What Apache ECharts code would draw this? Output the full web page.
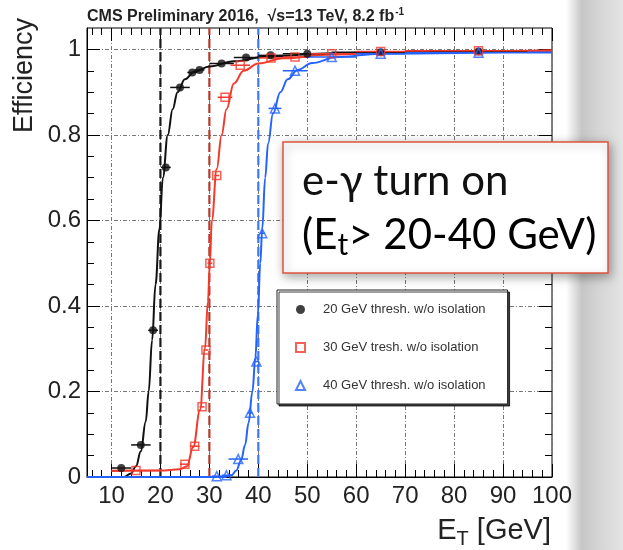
<!DOCTYPE html>
<html><head><meta charset="utf-8">
<script src="https://cdn.jsdelivr.net/npm/echarts@6/dist/echarts.min.js"></script>
<style>html,body{margin:0;padding:0;background:#fff}#c{width:623px;height:550px}</style>
</head><body><div id="c"></div>
<script>
// ---- axes ----
const xMin = 5, xMax = 100, yMin = 0, yMax = 1.05;
const xMajorTicks = [10, 20, 30, 40, 50, 60, 70, 80, 90, 100];
const xMinorTicks = [6, 8, 12, 14, 16, 18, 22, 24, 26, 28, 32, 34, 36, 38, 42, 44, 46, 48, 52, 54, 56, 58,
  62, 64, 66, 68, 72, 74, 76, 78, 82, 84, 86, 88, 92, 94, 96, 98];
const yMajorTicks = [0, 0.2, 0.4, 0.6, 0.8, 1];
const yMinorTicks = [0.05, 0.1, 0.15, 0.25, 0.3, 0.35, 0.45, 0.5, 0.55, 0.65, 0.7, 0.75, 0.85, 0.9, 0.95];
const thresholds = [20, 30, 40];

// ---- names ----
const names = ['20 GeV thresh. w/o isolation', '30 GeV tresh. w/o isolation', '40 GeV thresh. w/o isolation'];

// ---- measured points ----
const blackX = [12, 16, 18.5, 21.1, 24, 26.5, 28, 32.5, 37.5, 42.5, 50, 65, 85];
const blackY = [0.021, 0.075, 0.343, 0.724, 0.911, 0.946, 0.952, 0.967, 0.981, 0.986, 0.99, 0.993, 0.995];
const blackXErr = [2, 2, 1, 1, 2, 1, 1, 2.5, 2.5, 2.5, 5, 10, 10];

const redX = [15, 25, 27, 28.5, 29.3, 30.1, 31.5, 33.2, 36.3, 42.6, 47.5, 55, 65, 85];
const redY = [0.015, 0.03, 0.072, 0.164, 0.297, 0.5, 0.705, 0.888, 0.963, 0.98, 0.982, 0.99, 0.995, 0.997];
const redXErr = [5, 1, 1, 0.5, 0.5, 0.5, 0.5, 1.5, 2, 2.5, 2.5, 5, 5, 15];

const blueX = [31.5, 33.5, 35.9, 38.3, 39.6, 40.8, 43.4, 47.5, 55, 65, 85];
const blueY = [0.002, 0.004, 0.042, 0.15, 0.27, 0.57, 0.862, 0.95, 0.982, 0.99, 0.992];
const blueXErr = [1, 1, 2, 0.5, 0.5, 0.5, 1.3, 2.5, 5, 5, 15];

// ---- fit curves ----
const blackFitX = [5, 12.5, 14, 15, 16, 17, 17.6, 18.3, 19, 19.8, 20.5, 21.5, 22.5, 23.5, 25, 27, 30, 35, 42, 55, 70, 100];
const blackFitY = [0, 0, 0.008, 0.025, 0.06, 0.13, 0.2, 0.32, 0.45, 0.58, 0.7, 0.8, 0.86, 0.9, 0.93, 0.948, 0.96, 0.972, 0.984, 0.991, 0.994, 0.997];
const redFitX = [10, 20, 24, 25.4, 26.7, 28.1, 29.1, 29.7, 30.1, 30.5, 31.5, 32.5, 33.5, 35, 37, 40, 45, 55, 70, 100];
const redFitY = [0.014, 0.015, 0.018, 0.025, 0.07, 0.157, 0.3, 0.41, 0.5, 0.6, 0.72, 0.8, 0.86, 0.92, 0.95, 0.967, 0.979, 0.988, 0.994, 0.998];
const blueFitX = [5, 33, 34.5, 35.5, 36.5, 37.3, 38, 38.8, 39.4, 39.9, 40.4, 40.8, 41.4, 42, 43, 44.5, 46, 48, 51, 56, 65, 100];
const blueFitY = [0, 0, 0.004, 0.015, 0.04, 0.075, 0.126, 0.2, 0.28, 0.38, 0.5, 0.58, 0.7, 0.78, 0.85, 0.9, 0.93, 0.952, 0.968, 0.982, 0.99, 0.996];

const BLACK = '#111111', RED = '#f23a2c', BLUE = '#2563ff';
const LINE_COL = ['#1a1a1a', '#b8392b', '#3a78ff'];
const FONT = 'Liberation Sans, Arial, sans-serif';

const zip = (a, b) => a.map((v, i) => [v, b[i]]);

function errSeries(xs, ys, xe, color) {
  return {
    type: 'custom', silent: true, z: 4,
    data: xs.map((x, i) => [x, ys[i], xe[i]]),
    encode: { x: 0, y: 1 },
    renderItem: (params, api) => {
      const x = api.value(0), y = api.value(1), e = api.value(2);
      const p1 = api.coord([x - e, y]), p2 = api.coord([x + e, y]);
      return { type: 'line', shape: { x1: p1[0], y1: p1[1], x2: p2[0], y2: p2[1] },
        style: { stroke: color, lineWidth: 1.5 } };
    }
  };
}
function fitSeries(xs, ys, color) {
  return { type: 'line', data: zip(xs, ys), showSymbol: false, symbol: 'none', smooth: 0.4,
    smoothMonotone: 'x', silent: true, z: 3, lineStyle: { color: color, width: 2 } };
}
function vline(t, color) {
  return { type: 'line', data: [[t, yMin], [t, yMax]], showSymbol: false, symbol: 'none', silent: true, z: 3,
    lineStyle: { color: color, width: 2.2, type: [9, 4] } };
}

const baseX = { type: 'value', min: xMin, max: xMax };
const baseY = { type: 'value', min: yMin, max: yMax };
const tickStyle = { color: '#000', width: 1 };

const option = {
  animation: false,
  backgroundColor: '#ffffff',
  title: {
    left: 82, top: 2,
    text: '{a|CMS Preliminary 2016,  √s=13 TeV, 8.2 fb}{u|-1}',
    textStyle: { rich: {
      a: { fontSize: 16, fontWeight: 'bold', fontFamily: FONT, color: '#222' },
      u: { fontSize: 10, fontWeight: 'bold', fontFamily: FONT, color: '#222', padding: [0, 0, 10, 1] }
    } }
  },
  grid: { left: 87, right: 71, top: 28, bottom: 73, show: true, borderColor: '#000', borderWidth: 1 },
  xAxis: [
    Object.assign({}, baseX, { position: 'bottom',
      axisLine: { show: true, onZero: false, lineStyle: tickStyle },
      axisTick: { show: true, inside: true, length: 13, customValues: xMajorTicks, lineStyle: tickStyle },
      axisLabel: { customValues: xMajorTicks, fontSize: 24, color: '#222', margin: 7, fontFamily: FONT },
      splitLine: { show: true, lineStyle: { color: '#777', width: 1, type: [4, 2, 1, 2] } } }),
    Object.assign({}, baseX, { position: 'bottom',
      axisLine: { show: false, onZero: false },
      axisTick: { show: true, inside: true, length: 7, customValues: xMinorTicks, lineStyle: tickStyle },
      axisLabel: { show: false }, splitLine: { show: false } }),
    Object.assign({}, baseX, { position: 'top',
      axisLine: { show: false, onZero: false },
      axisTick: { show: true, inside: true, length: 13, customValues: xMajorTicks, lineStyle: tickStyle },
      axisLabel: { show: false }, splitLine: { show: false } }),
    Object.assign({}, baseX, { position: 'top',
      axisLine: { show: false, onZero: false },
      axisTick: { show: true, inside: true, length: 7, customValues: xMinorTicks, lineStyle: tickStyle },
      axisLabel: { show: false }, splitLine: { show: false } })
  ],
  yAxis: [
    Object.assign({}, baseY, { position: 'left',
      axisLine: { show: true, onZero: false, lineStyle: tickStyle },
      axisTick: { show: true, inside: true, length: 13, customValues: yMajorTicks, lineStyle: tickStyle },
      axisLabel: { customValues: yMajorTicks, fontSize: 24, color: '#222', margin: 6, fontFamily: FONT },
      splitLine: { show: true, lineStyle: { color: '#777', width: 1, type: [4, 2, 1, 2] } } }),
    Object.assign({}, baseY, { position: 'left',
      axisLine: { show: false, onZero: false },
      axisTick: { show: true, inside: true, length: 7, customValues: yMinorTicks, lineStyle: tickStyle },
      axisLabel: { show: false }, splitLine: { show: false } }),
    Object.assign({}, baseY, { position: 'right',
      axisLine: { show: false, onZero: false },
      axisTick: { show: true, inside: true, length: 13, customValues: yMajorTicks, lineStyle: tickStyle },
      axisLabel: { show: false }, splitLine: { show: false } }),
    Object.assign({}, baseY, { position: 'right',
      axisLine: { show: false, onZero: false },
      axisTick: { show: true, inside: true, length: 7, customValues: yMinorTicks, lineStyle: tickStyle },
      axisLabel: { show: false }, splitLine: { show: false } })
  ],
  legend: {
    data: names, orient: 'vertical', left: 277, top: 290, selectedMode: false,
    itemWidth: 9, itemHeight: 9, itemGap: 25, padding: [13, 22, 12, 18],
    backgroundColor: '#fff', borderColor: '#222', borderWidth: 1,
    shadowColor: 'rgba(0,0,0,0.75)', shadowBlur: 0, shadowOffsetX: 2, shadowOffsetY: 2,
    textStyle: { fontSize: 13, color: '#333', fontFamily: FONT, padding: [0, 0, 0, 13] }
  },
  series: [
    vline(thresholds[0], LINE_COL[0]),
    vline(thresholds[1], LINE_COL[1]),
    vline(thresholds[2], LINE_COL[2]),
    fitSeries(blackFitX, blackFitY, BLACK),
    fitSeries(redFitX, redFitY, RED),
    fitSeries(blueFitX, blueFitY, BLUE),
    errSeries(blackX, blackY, blackXErr, BLACK),
    errSeries(redX, redY, redXErr, RED),
    errSeries(blueX, blueY, blueXErr, BLUE),
    { name: names[0], type: 'scatter', z: 5, data: zip(blackX, blackY), symbol: 'circle', symbolSize: 8,
      itemStyle: { color: BLACK } },
    { name: names[1], type: 'scatter', z: 5, data: zip(redX, redY), symbol: 'rect', symbolSize: 8,
      itemStyle: { color: 'rgba(255,255,255,0)', borderColor: RED, borderWidth: 1.5 } },
    { name: names[2], type: 'scatter', z: 5, data: zip(blueX, blueY), symbol: 'triangle', symbolSize: 9,
      itemStyle: { color: 'rgba(255,255,255,0)', borderColor: BLUE, borderWidth: 1.5 } }
  ],
  graphic: { elements: [
    { type: 'rect', z: -1, silent: true, shape: { x: 566, y: 0, width: 57, height: 550 },
      style: { fill: new echarts.graphic.LinearGradient(0, 0, 1, 0, [
        { offset: 0, color: 'rgba(255,255,255,1)' }, { offset: 0.28, color: '#c6c6c6' },
        { offset: 0.55, color: '#d4d4d4' }, { offset: 1, color: '#e4e4e4' }]) } },
    { type: 'text', z: 10, x: 25, y: 133, rotation: Math.PI / 2, silent: true,
      style: { text: 'Efficiency', fontSize: 27, fontFamily: FONT, fill: '#222', align: 'left', verticalAlign: 'middle' } },
    { type: 'text', z: 10, x: 551, y: 531, silent: true,
      style: { text: '{a|E}{s|T}{a| [GeV]}', align: 'right', verticalAlign: 'middle',
        rich: { a: { fontSize: 29, fontFamily: FONT, fill: '#222', color: '#222' },
                s: { fontSize: 20, fontFamily: FONT, fill: '#222', color: '#222', padding: [16, 0, 0, 0] } } } },
    { type: 'rect', z: 100, silent: true, shape: { x: 283, y: 142, width: 325, height: 131 },
      style: { fill: '#fff', stroke: '#e0533d', lineWidth: 1.5, shadowBlur: 10, shadowColor: 'rgba(0,0,0,0.35)',
        shadowOffsetX: 2, shadowOffsetY: 3 } },
    { type: 'text', z: 101, x: 302, y: 181, silent: true,
      style: { text: 'e-γ turn on', fontSize: 42, fontFamily: 'Lato, Open Sans, sans-serif', fill: '#111',
        align: 'left', verticalAlign: 'middle' } },
    { type: 'text', z: 101, x: 302, y: 235, silent: true,
      style: { text: '{a|(E}{s|t}{a|> 20-40 GeV)}', align: 'left', verticalAlign: 'middle',
        rich: { a: { fontSize: 42, fontFamily: 'Lato, Open Sans, sans-serif', color: '#111' },
                s: { fontSize: 30, fontFamily: 'Lato, Open Sans, sans-serif', color: '#111', padding: [20, 0, 0, 0] } } } }
  ] }
};

const chart = echarts.init(document.getElementById('c'), null, { renderer: 'canvas' });
chart.setOption(option);
</script>
</body></html>
